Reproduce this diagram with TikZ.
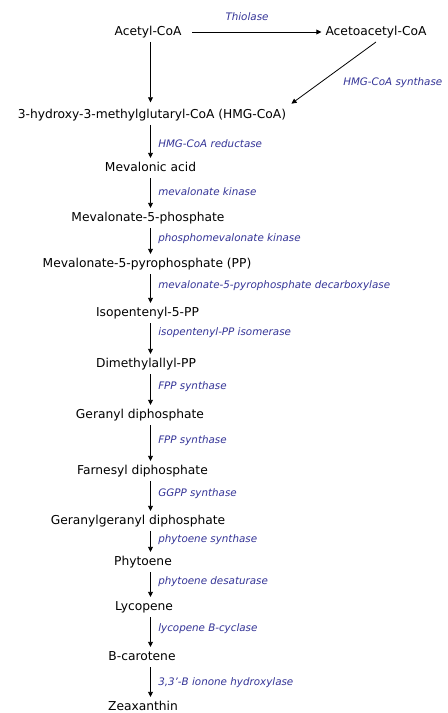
\documentclass[tikz,border=0pt]{standalone}
\usepackage{fontspec}
\setmainfont{DejaVu Sans}
\usetikzlibrary{arrows.meta}

\definecolor{enzblue}{RGB}{51,51,150}
\tikzset{
  compound/.style={inner xsep=3pt,inner ysep=3.5pt,outer sep=0pt,text height=6.5pt,text depth=1.5pt,font=\fontsize{9.2}{11}\selectfont},
  enzyme/.style={anchor=west,inner sep=0pt,text=enzblue,font=\fontsize{7.75}{9}\selectfont\itshape},
  pathway/.style={line width=0.6pt,-{Triangle[length=3.8pt,width=3.6pt]}}
}

\begin{document}
\begin{tikzpicture}[x=0.75pt,y=0.75pt,yscale=-1,xscale=1]
\useasboundingbox (0,0) rectangle (448,713);
%arrow axis
\coordinate (axis) at (150.5,0);

% Text Node
\draw (148,32) node (acetyl) [compound] {Acetyl-CoA};
% Text Node
\draw (376,32) node (aceto) [compound] {Acetoacetyl-CoA};
% Text Node
\draw (152,115) node (hmg) [compound] {3-hydroxy-3-methylglutaryl-CoA (HMG-CoA)};
% Text Node
\draw (150.5,168) node (mva) [compound] {Mevalonic acid};
% Text Node
\draw (148,218) node (mvp) [compound] {Mevalonate-5-phosphate};
% Text Node
\draw (147,264) node (mvpp) [compound] {Mevalonate-5-pyrophosphate (PP)};
% Text Node
\draw (147.5,313) node (ipp) [compound] {Isopentenyl-5-PP};
% Text Node
\draw (146,364) node (dmapp) [compound] {Dimethylallyl-PP};
% Text Node
\draw (140,415) node (gpp) [compound] {Geranyl diphosphate};
% Text Node
\draw (142.5,471) node (fpp) [compound] {Farnesyl diphosphate};
% Text Node
\draw (138,521) node (ggpp) [compound] {Geranylgeranyl diphosphate};
% Text Node
\draw (143,562) node (phyto) [compound] {Phytoene};
% Text Node
\draw (144,607) node (lyco) [compound] {Lycopene};
% Text Node
\draw (142,657) node (bcar) [compound] {B-carotene};
% Text Node
\draw (143,707) node (zea) [compound] {Zeaxanthin};

%Straight Lines
\draw [pathway,shorten <=5pt] (acetyl.east) -- (aceto.west);
\draw [pathway] (acetyl.south -| axis) -- ([yshift=-2pt]hmg.north -| axis);
\draw [pathway] (aceto.south) -- ([xshift=1pt,yshift=-1pt]hmg.north east);
\draw [pathway] (hmg.south -| axis) -- (mva.north -| axis);
\draw [pathway] (mva.south -| axis) -- (mvp.north -| axis);
\draw [pathway] (mvp.south -| axis) -- (mvpp.north -| axis);
\draw [pathway] (mvpp.south -| axis) -- (ipp.north -| axis);
\draw [pathway] (ipp.south -| axis) -- (dmapp.north -| axis);
\draw [pathway] (dmapp.south -| axis) -- (gpp.north -| axis);
\draw [pathway] (gpp.south -| axis) -- (fpp.north -| axis);
\draw [pathway] (fpp.south -| axis) -- (ggpp.north -| axis);
\draw [pathway] (ggpp.south -| axis) -- (phyto.north -| axis);
\draw [pathway] (phyto.south -| axis) -- (lyco.north -| axis);
\draw [pathway] (lyco.south -| axis) -- (bcar.north -| axis);
\draw [pathway] (bcar.south -| axis) -- (zea.north -| axis);

% Text Node
\draw (247,17) node [enzyme,anchor=center] {Thiolase};
% Text Node
\draw (343,83) node [enzyme] {HMG-CoA synthase};
% Text Node
\draw (158,144) node [enzyme] {HMG-CoA reductase};
% Text Node
\draw (158,192) node [enzyme] {mevalonate kinase};
% Text Node
\draw (158,239) node [enzyme] {phosphomevalonate kinase};
% Text Node
\draw (158,286) node [enzyme] {mevalonate-5-pyrophosphate decarboxylase};
% Text Node
\draw (158,333) node [enzyme] {isopentenyl-PP isomerase};
% Text Node
\draw (158,387) node [enzyme] {FPP synthase};
% Text Node
\draw (158,441) node [enzyme] {FPP synthase};
% Text Node
\draw (158,494) node [enzyme] {GGPP synthase};
% Text Node
\draw (158,540) node [enzyme] {phytoene synthase};
% Text Node
\draw (158,582) node [enzyme] {phytoene desaturase};
% Text Node
\draw (158,629) node [enzyme] {lycopene B-cyclase};
% Text Node
\draw (158,683) node [enzyme] {3,3'-B ionone hydroxylase};

\end{tikzpicture}
\end{document}
